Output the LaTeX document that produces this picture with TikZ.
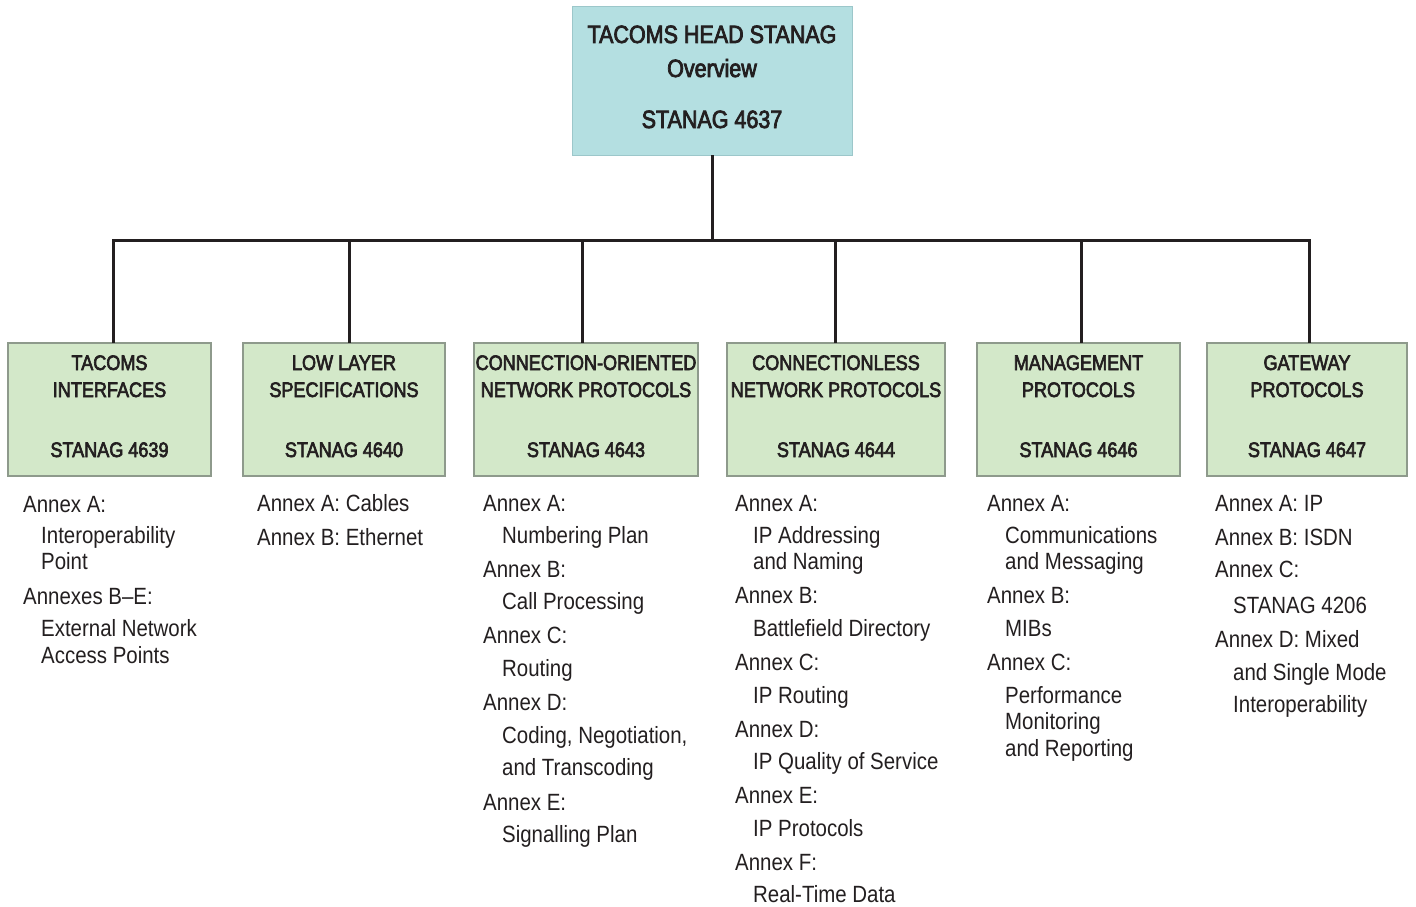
\documentclass[tikz,border=0pt]{standalone}
\usepackage{fontspec}
\setmainfont{Liberation Sans}[FakeStretch=0.87]
\newfontfamily\hdfont{Liberation Sans}[FakeStretch=0.86,FakeBold=3]
\definecolor{topfill}{HTML}{B4DFE1}
\definecolor{topdraw}{HTML}{9CC7CA}
\definecolor{boxfill}{HTML}{D3E8C9}
\definecolor{boxdraw}{HTML}{8E9A8C}
\definecolor{ink}{HTML}{231F20}
\begin{document}
\begin{tikzpicture}[x=1pt,y=-1pt,
  topbox/.style={draw=topdraw,fill=topfill,line width=1pt,inner sep=0,outer sep=0,minimum width=280pt,minimum height=148pt},
  subbox/.style={draw=boxdraw,fill=boxfill,line width=1.2pt,inner sep=0,outer sep=0,minimum height=133pt},
  hd/.style={anchor=base,inner sep=0,font=\hdfont\fontsize{21}{25}\selectfont,text=ink},
  tophd/.style={anchor=base,inner sep=0,font=\hdfont\fontsize{25}{30}\selectfont,text=ink},
  annex/.style={anchor=base west,inner sep=0,font=\fontsize{23.5}{28}\selectfont,text=ink},
  link/.style={draw=ink,line width=3pt}
]
\useasboundingbox[fill=white] (0,0) rectangle (1416,907);

% top box
\node[topbox] (top) at (712,81) {};
\node[tophd] (top1) at (712,43) {TACOMS HEAD STANAG};
\node[tophd] (top2) at (712,77) {Overview};
\node[tophd] (top3) at (712,128) {STANAG 4637};

% child boxes
\node[subbox,minimum width=203pt] (b1) at (109.5,409.5) {};
\node[subbox,minimum width=202pt] (b2) at (344,409.5) {};
\node[subbox,minimum width=224pt] (b3) at (586,409.5) {};
\node[subbox,minimum width=218pt] (b4) at (836,409.5) {};
\node[subbox,minimum width=203pt] (b5) at (1078.5,409.5) {};
\node[subbox,minimum width=200pt] (b6) at (1307,409.5) {};

\foreach \c/\x/\la/\lb/\num in {
  1/109.5/TACOMS/INTERFACES/4639,
  2/344/LOW LAYER/SPECIFICATIONS/4640,
  3/586/CONNECTION-ORIENTED/NETWORK PROTOCOLS/4643,
  4/836/CONNECTIONLESS/NETWORK PROTOCOLS/4644,
  5/1078.5/MANAGEMENT/PROTOCOLS/4646,
  6/1307/GATEWAY/PROTOCOLS/4647}{
  \node[hd] (h\c a) at (\x,370) {\la};
  \node[hd] (h\c b) at (\x,397) {\lb};
  \node[hd] (h\c c) at (\x,457) {STANAG \num};
}

% connectors
\coordinate (j0) at (712,240);
\coordinate (j1) at (113,240);
\coordinate (j2) at (349,240);
\coordinate (j3) at (582,240);
\coordinate (j4) at (835,240);
\coordinate (j5) at (1081,240);
\coordinate (j6) at (1309,240);
\draw[link] (top.south) -- (j0);
\draw[link] (j1 |- b1.north) -- (j1) -- (j6) -- (j6 |- b6.north);
\draw[link] (j2) -- (j2 |- b2.north);
\draw[link] (j3) -- (j3 |- b3.north);
\draw[link] (j4) -- (j4 |- b4.north);
\draw[link] (j5) -- (j5 |- b5.north);

% annex texts
\foreach \x/\y/\t [count=\i] in {
  23/512/{Annex A:}, 41/543/{Interoperability}, 41/569/{Point},
  23/604/{Annexes B–E:}, 41/636/{External Network}, 41/663/{Access Points}}
  \node[annex] (t1-\i) at (\x,\y) {\t};

\foreach \x/\y/\t [count=\i] in {
  257/511/{Annex A: Cables}, 257/545/{Annex B: Ethernet}}
  \node[annex] (t2-\i) at (\x,\y) {\t};

\foreach \x/\y/\t [count=\i] in {
  483/511/{Annex A:}, 502/543/{Numbering Plan},
  483/577/{Annex B:}, 502/609/{Call Processing},
  483/643/{Annex C:}, 502/676/{Routing},
  483/710/{Annex D:}, 502/743/{Coding, Negotiation,}, 502/775/{and Transcoding},
  483/810/{Annex E:}, 502/842/{Signalling Plan}}
  \node[annex] (t3-\i) at (\x,\y) {\t};

\foreach \x/\y/\t [count=\i] in {
  735/511/{Annex A:}, 753/543/{IP Addressing}, 753/569/{and Naming},
  735/603/{Annex B:}, 753/636/{Battlefield Directory},
  735/670/{Annex C:}, 753/703/{IP Routing},
  735/737/{Annex D:}, 753/769/{IP Quality of Service},
  735/803/{Annex E:}, 753/836/{IP Protocols},
  735/870/{Annex F:}, 753/902/{Real-Time Data}}
  \node[annex] (t4-\i) at (\x,\y) {\t};

\foreach \x/\y/\t [count=\i] in {
  987/511/{Annex A:}, 1005/543/{Communications}, 1005/569/{and Messaging},
  987/603/{Annex B:}, 1005/636/{MIBs},
  987/670/{Annex C:}, 1005/703/{Performance}, 1005/729/{Monitoring}, 1005/756/{and Reporting}}
  \node[annex] (t5-\i) at (\x,\y) {\t};

\foreach \x/\y/\t [count=\i] in {
  1215/511/{Annex A: IP}, 1215/545/{Annex B: ISDN},
  1215/577/{Annex C:}, 1233/613/{STANAG 4206},
  1215/647/{Annex D: Mixed}, 1233/680/{and Single Mode}, 1233/712/{Interoperability}}
  \node[annex] (t6-\i) at (\x,\y) {\t};
\end{tikzpicture}
\end{document}
